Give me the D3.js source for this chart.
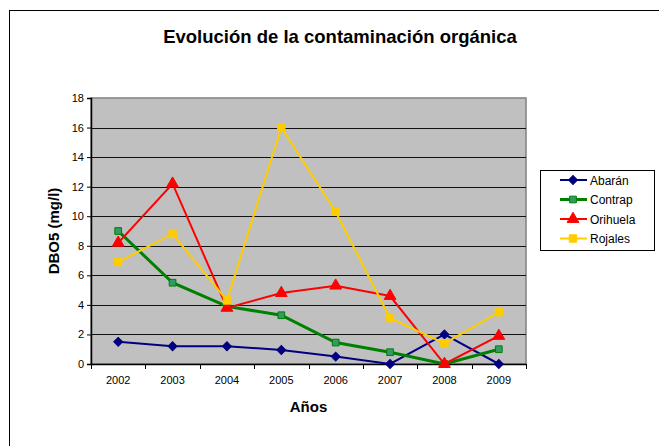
<!DOCTYPE html>
<html lang="es">
<head>
    <meta charset="UTF-8">
    <title>Evolución de la contaminación orgánica</title>
    <style>
        body{margin:0;background:#fff;}
        text{font-family:"Liberation Sans",Arial,sans-serif;}
    </style>
</head>
<body>
<script src="https://cdn.jsdelivr.net/npm/d3@7/dist/d3.min.js"></script>
<script>
    var years=["2002","2003","2004","2005","2006","2007","2008","2009"];
    var yTicks=[0,2,4,6,8,10,12,14,16,18];
    var abaran=[1.5,1.2,1.2,0.95,0.5,0,2.0,0];
    var contrap=[9.0,5.5,3.9,3.3,1.45,0.8,0,1.0];
    var orihuela=[8.2,12.2,3.8,4.8,5.3,4.6,0,1.9];
    var rojales=[6.9,8.8,4.3,16.0,10.3,3.1,1.4,3.5];

    var series=[
        {name:"Abarán",values:abaran,color:"#000080",fill:"#000080",width:2,symbol:d3.symbolSquare,size:40,rot:45},
        {name:"Contrap",values:contrap,color:"#008000",fill:"#339966",width:3,symbol:d3.symbolSquare,size:45,rot:0},
        {name:"Orihuela",values:orihuela,color:"#FF0000",fill:"#FF0000",width:2,symbol:d3.symbolTriangle,size:60,rot:0},
        {name:"Rojales",values:rojales,color:"#FFCC00",fill:"#FFCC00",width:2,symbol:d3.symbolSquare,size:55,rot:0}
    ];

    var width=659,height=446;
    var plotLeft=91,plotRight=526,plotTop=98,plotBottom=364;

    var svg=d3.select('body').append('svg')
        .attr('width',width).attr('height',height);

    // outer frame
    svg.append('rect')
        .attr('x',9.5).attr('y',10.5)
        .attr('width',700).attr('height',500)
        .attr('fill','#fff').attr('stroke','#000').attr('stroke-width',1);

    var x=d3.scaleBand().domain(years).range([plotLeft,plotRight]);
    var y=d3.scaleLinear().domain([0,18]).range([plotBottom,plotTop]);

    // plot area
    svg.append('rect')
        .attr('x',plotLeft).attr('y',plotTop)
        .attr('width',plotRight-plotLeft).attr('height',plotBottom-plotTop)
        .attr('fill','#C0C0C0').attr('stroke','#808080').attr('stroke-width',1.5);

    svg.selectAll('line.grid')
        .data(yTicks.slice(1,-1))
        .enter().append('line')
        .attr('class','grid')
        .attr('x1',plotLeft).attr('x2',plotRight)
        .attr('y1',function(d){return Math.round(y(d))+0.5;})
        .attr('y2',function(d){return Math.round(y(d))+0.5;})
        .attr('stroke','#111').attr('stroke-width',1.2);

    // axes
    var yAxis=d3.axisLeft(y).tickValues(yTicks).tickSize(4).tickPadding(3);
    var gy=svg.append('g').attr('transform','translate('+plotLeft+',0)').call(yAxis);
    gy.selectAll('text').attr('font-size','11px').attr('fill','#000')
        .style('font-family','"Liberation Sans",Arial,sans-serif');
    gy.select('.domain').attr('stroke','#000').attr('stroke-width',1.5);

    var xAxis=d3.axisBottom(x).tickSize(0).tickPadding(12);
    var gx=svg.append('g').attr('transform','translate(0,'+plotBottom+')').call(xAxis);
    gx.select('.domain').attr('stroke','#000').attr('stroke-width',1.5);
    gx.selectAll('text').attr('font-size','11px').attr('fill','#000')
        .style('font-family','"Liberation Sans",Arial,sans-serif');

    // x ticks at category boundaries
    var bounds=years.map(function(d){return x(d);}).concat([x(years[years.length-1])+x.bandwidth()]);
    svg.selectAll('line.xtick')
        .data(bounds)
        .enter().append('line')
        .attr('class','xtick')
        .attr('x1',function(d){return Math.round(d)+0.5;})
        .attr('x2',function(d){return Math.round(d)+0.5;})
        .attr('y1',plotBottom).attr('y2',plotBottom+5)
        .attr('stroke','#000');

    // lines and markers
    var line=d3.line()
        .x(function(d,i){return x(years[i])+x.bandwidth()/2;})
        .y(function(d){return y(d);});

    series.forEach(function(s){
        svg.append('path')
            .attr('d',line(s.values))
            .attr('fill','none')
            .attr('stroke',s.color)
            .attr('stroke-width',s.width);
    });

    series.forEach(function(s){
        var sym=d3.symbol().type(s.symbol).size(s.size);
        svg.selectAll(null)
            .data(s.values)
            .enter().append('path')
            .attr('d',sym)
            .attr('transform',function(d,i){
                return 'translate('+(x(years[i])+x.bandwidth()/2)+','+y(d)+') rotate('+s.rot+')';
            })
            .attr('fill',s.fill)
            .attr('stroke',s.color)
            .attr('stroke-width',1);
    });

    // titles
    svg.append('text')
        .attr('x',340).attr('y',43)
        .attr('text-anchor','middle')
        .attr('font-size','18.5px').attr('font-weight','bold')
        .text('Evolución de la contaminación orgánica');

    svg.append('text')
        .attr('x',(plotLeft+plotRight)/2).attr('y',412)
        .attr('text-anchor','middle')
        .attr('font-size','15px').attr('font-weight','bold')
        .text('Años');

    svg.append('text')
        .attr('transform','translate(59,'+((plotTop+plotBottom)/2)+') rotate(-90)')
        .attr('text-anchor','middle')
        .attr('font-size','15px').attr('font-weight','bold')
        .text('DBO5 (mg/l)');

    // legend
    var legend=svg.append('g').attr('transform','translate(540,170)');
    legend.append('rect')
        .attr('x',0.5).attr('y',0.5).attr('width',114).attr('height',80)
        .attr('fill','#fff').attr('stroke','#000');

    var items=legend.selectAll('g.item')
        .data(series)
        .enter().append('g')
        .attr('class','item')
        .attr('transform',function(d,i){return 'translate(0,'+(10+i*19.5)+')';});

    items.append('line')
        .attr('x1',20).attr('x2',47)
        .attr('stroke',function(d){return d.color;})
        .attr('stroke-width',function(d){return d.width;});
    items.append('path')
        .attr('d',function(d){return d3.symbol().type(d.symbol).size(d.size)();})
        .attr('transform',function(d){return 'translate(33,0) rotate('+d.rot+')';})
        .attr('fill',function(d){return d.fill;})
        .attr('stroke',function(d){return d.color;});
    items.append('text')
        .attr('x',50).attr('y',4.5)
        .attr('font-size','12px')
        .text(function(d){return d.name;});
</script>
</body>
</html>
